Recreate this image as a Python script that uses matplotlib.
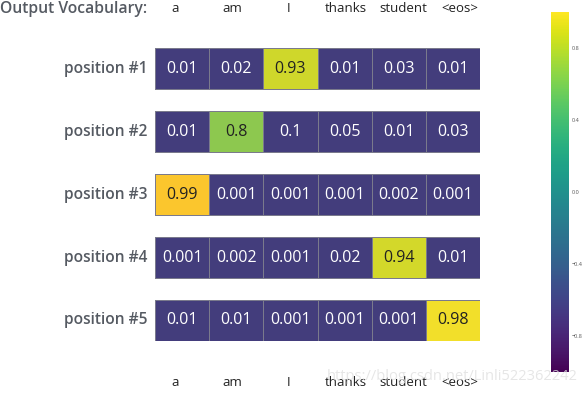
import numpy as np
import matplotlib
matplotlib.use('Agg')
import matplotlib.pyplot as plt
from matplotlib.colors import LinearSegmentedColormap, Normalize
from matplotlib.colorbar import ColorbarBase

plt.rcParams['font.family'] = ['Open Sans', 'DejaVu Sans']

vocab = ['a', 'am', 'I', 'thanks', 'student', '<eos>']
positions = ['position #1', 'position #2', 'position #3', 'position #4', 'position #5']
probs = [
    [0.01, 0.02, 0.93, 0.01, 0.03, 0.01],
    [0.01, 0.8, 0.1, 0.05, 0.01, 0.03],
    [0.99, 0.001, 0.001, 0.001, 0.002, 0.001],
    [0.001, 0.002, 0.001, 0.02, 0.94, 0.01],
    [0.01, 0.01, 0.001, 0.001, 0.001, 0.98],
]
labels = [
    ['0.01', '0.02', '0.93', '0.01', '0.03', '0.01'],
    ['0.01', '0.8', '0.1', '0.05', '0.01', '0.03'],
    ['0.99', '0.001', '0.001', '0.001', '0.002', '0.001'],
    ['0.001', '0.002', '0.001', '0.02', '0.94', '0.01'],
    ['0.01', '0.01', '0.001', '0.001', '0.001', '0.98'],
]

cell_cmap = LinearSegmentedColormap.from_list('cells', [
    (0.0, '#433d7c'), (0.1, '#433d7c'), (0.8, '#8dc84f'), (0.93, '#cdd72c'),
    (0.94, '#d2d82a'), (0.98, '#f2e02a'), (0.99, '#fbc62d'), (1.0, '#fbc62d')])

W, H = 585, 395
fig = plt.figure(figsize=(W / 100, H / 100), dpi=100)
ax = fig.add_axes([155 / W, 1 - 341 / H, 325 / W, 293 / H])

period = 63 / 41
for i, row in enumerate(probs):
    y0 = i * period
    ax.pcolormesh(np.arange(7), [y0, y0 + 1], np.array([row]), cmap=cell_cmap,
                  vmin=0, vmax=1, edgecolors='#7a7a8c', linewidth=0.5)
    for j, v in enumerate(row):
        ax.text(j + 0.5, y0 + 0.5, labels[i][j], ha='center', va='center',
                fontsize=11.5, color='#222222' if v > 0.5 else 'white')
    ax.text(-0.14, y0 + 0.5, positions[i], ha='right', va='center',
            fontsize=11.2, color='#555a62', fontweight='semibold')

ax.set_xlim(0, 6)
ax.set_ylim(4 * period + 1, 0)
ax.axis('off')

# vocabulary labels sit on a slightly wider spacing than the cells
lab_ax = fig.add_axes([146.5 / W, 0, 342 / W, 1])
lab_ax.set_xlim(0, 6)
lab_ax.set_ylim(H, 0)
lab_ax.axis('off')
for j, name in enumerate(vocab):
    lab_ax.text(j + 0.5, 9, name, ha='center', va='center', fontsize=9.5, color='#222222')
    lab_ax.text(j + 0.5, 383, name, ha='center', va='center', fontsize=9.5, color='#222222')

fig.text(0, 1 - 9 / H, 'Output Vocabulary:', ha='left', va='center',
         fontsize=11.3, color='#555a62', fontweight='semibold')

cax = fig.add_axes([551 / W, 1 - 372 / H, 18 / W, 360 / H])
cb = ColorbarBase(cax, cmap=plt.get_cmap('viridis'), norm=Normalize(-1, 1))
cb.set_ticks([-0.8, -0.4, 0.0, 0.4, 0.8])
cb.outline.set_visible(False)
cax.tick_params(length=0, labelsize=4, labelcolor='#555555', pad=2)

fig.text(578 / W, 1 - 376 / H, 'https://blog.csdn.net/Linli522362242', ha='right',
         va='center', fontsize=10.5, color='#e0e0e0', alpha=0.8)

fig.savefig('out.png', dpi=100)
